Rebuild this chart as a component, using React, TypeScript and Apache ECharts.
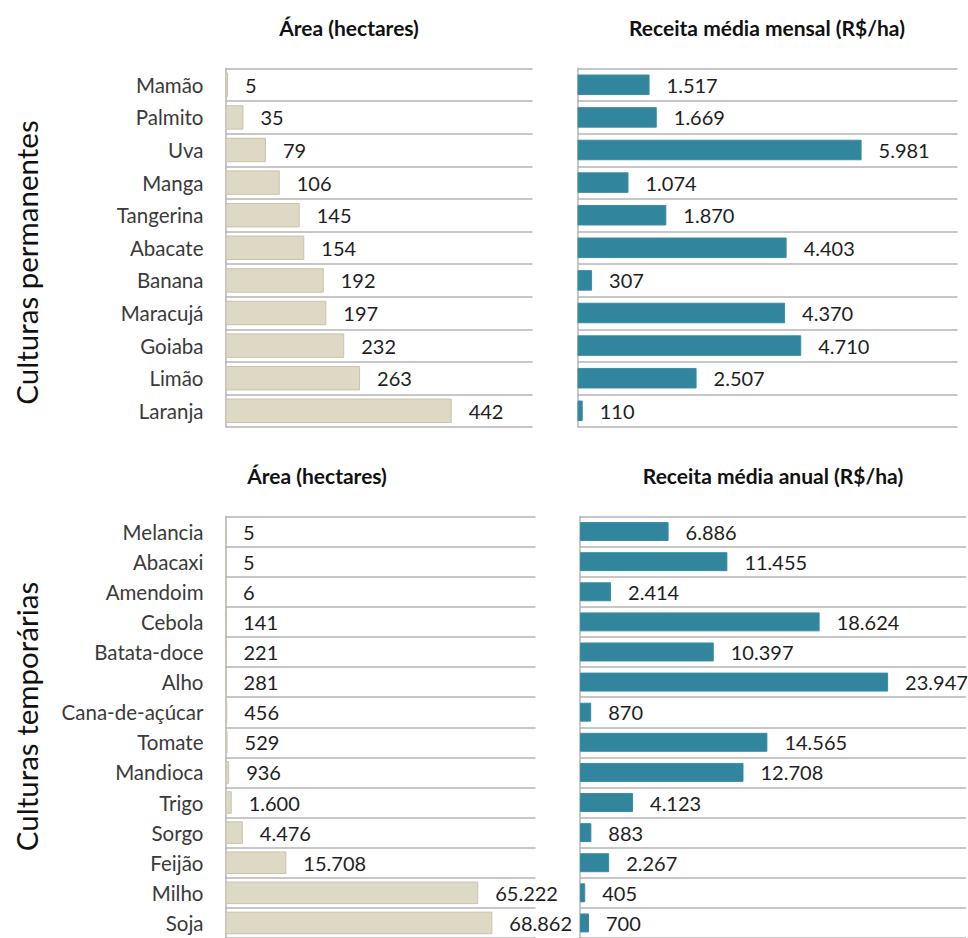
import React, { useEffect, useRef } from "react";
import * as echarts from "echarts";

const permCats = ["Mamão", "Palmito", "Uva", "Manga", "Tangerina", "Abacate", "Banana", "Maracujá", "Goiaba", "Limão", "Laranja"];
const permArea = [5, 35, 79, 106, 145, 154, 192, 197, 232, 263, 442];
const permRevenue = [1517, 1669, 5981, 1074, 1870, 4403, 307, 4370, 4710, 2507, 110];

const tempCats = ["Melancia", "Abacaxi", "Amendoim", "Cebola", "Batata-doce", "Alho", "Cana-de-açúcar", "Tomate", "Mandioca", "Trigo", "Sorgo", "Feijão", "Milho", "Soja"];
const tempArea = [5, 5, 6, 141, 221, 281, 456, 529, 936, 1600, 4476, 15708, 65222, 68862];
const tempRevenue = [6886, 11455, 2414, 18624, 10397, 23947, 870, 14565, 12708, 4123, 883, 2267, 405, 700];

const axisMax = [600, 8000, 80000, 30000];

const FONT = "Lato, 'Open Sans', sans-serif";
const BEIGE = "#DDD9C4";
const TEAL = "#31859C";
const GRID_LINE = "#B4B4B4";

const fmt = (v: number) => String(v).replace(/\B(?=(\d{3})+(?!\d))/g, ".");

export default function App() {
  const ref = useRef<HTMLDivElement>(null);
  useEffect(() => {
    if (!ref.current) return;
    const chart = echarts.init(ref.current, undefined, { renderer: "svg" });

    const grids = [
      { left: 225.5, top: 68.5, width: 307, height: 358.6 },
      { left: 577.5, top: 68.5, width: 380, height: 358.6 },
      { left: 225.5, top: 516.5, width: 310, height: 425.6 },
      { left: 580, top: 516.5, width: 386, height: 425.6 },
    ];
    const cats = [permCats, permCats, tempCats, tempCats];
    const data = [permArea, permRevenue, tempArea, tempRevenue];
    const colors = [BEIGE, TEAL, BEIGE, TEAL];
    const widths = ["75%", "63%", "75%", "63%"];

    const option: any = {
      animation: false,
      grid: grids.map((g) => ({ ...g, containLabel: false })),
      xAxis: grids.map((_, i) => ({
        type: "value",
        gridIndex: i,
        min: 0,
        max: axisMax[i],
        show: false,
      })),
      yAxis: grids.map((_, i) => ({
        type: "category",
        gridIndex: i,
        data: cats[i],
        inverse: true,
        axisLine: { show: true, lineStyle: { color: GRID_LINE, width: 1.5 } },
        axisTick: { show: false },
        splitLine: { show: true, lineStyle: { color: GRID_LINE, width: 1.5 } },
        axisLabel: {
          show: i % 2 === 0,
          margin: 22,
          fontFamily: FONT,
          fontSize: 20.5,
          color: "#3a3a3a",
        },
      })),
      series: grids.map((_, i) => ({
        type: "bar",
        xAxisIndex: i,
        yAxisIndex: i,
        data: data[i],
        barWidth: widths[i],
        itemStyle: {
          color: colors[i],
          borderColor: i % 2 === 0 ? "#C8C3AC" : "#3A8DA3",
          borderWidth: 1,
        },
        label: {
          show: true,
          position: "right",
          distance: 17,
          formatter: (p: any) => fmt(p.value),
          fontFamily: FONT,
          fontSize: 20,
          color: "#1e1e1e",
        },
      })),
      graphic: [
        { type: "text", x: 349, y: 27, style: { text: "Área (hectares)", font: `bold 21px ${FONT}`, fill: "#111", align: "center", verticalAlign: "middle" } },
        { type: "text", x: 767, y: 27, style: { text: "Receita média mensal (R$/ha)", font: `bold 21px ${FONT}`, fill: "#111", align: "center", verticalAlign: "middle" } },
        { type: "text", x: 317, y: 475, style: { text: "Área (hectares)", font: `bold 21px ${FONT}`, fill: "#111", align: "center", verticalAlign: "middle" } },
        { type: "text", x: 773, y: 475, style: { text: "Receita média anual (R$/ha)", font: `bold 21px ${FONT}`, fill: "#111", align: "center", verticalAlign: "middle" } },
        { type: "text", x: 26, y: 262.5, rotation: Math.PI / 2, style: { text: "Culturas permanentes", font: `29.5px ${FONT}`, fill: "#111", align: "center", verticalAlign: "middle" } },
        { type: "text", x: 26, y: 716.5, rotation: Math.PI / 2, style: { text: "Culturas temporárias", font: `29.5px ${FONT}`, fill: "#111", align: "center", verticalAlign: "middle" } },
      ],
    };
    chart.setOption(option);
    return () => chart.dispose();
  }, []);
  return (
    <div
      ref={ref}
      style={{ position: "absolute", left: 0, top: 0, width: 968, height: 938, background: "#fff" }}
    />
  );
}
